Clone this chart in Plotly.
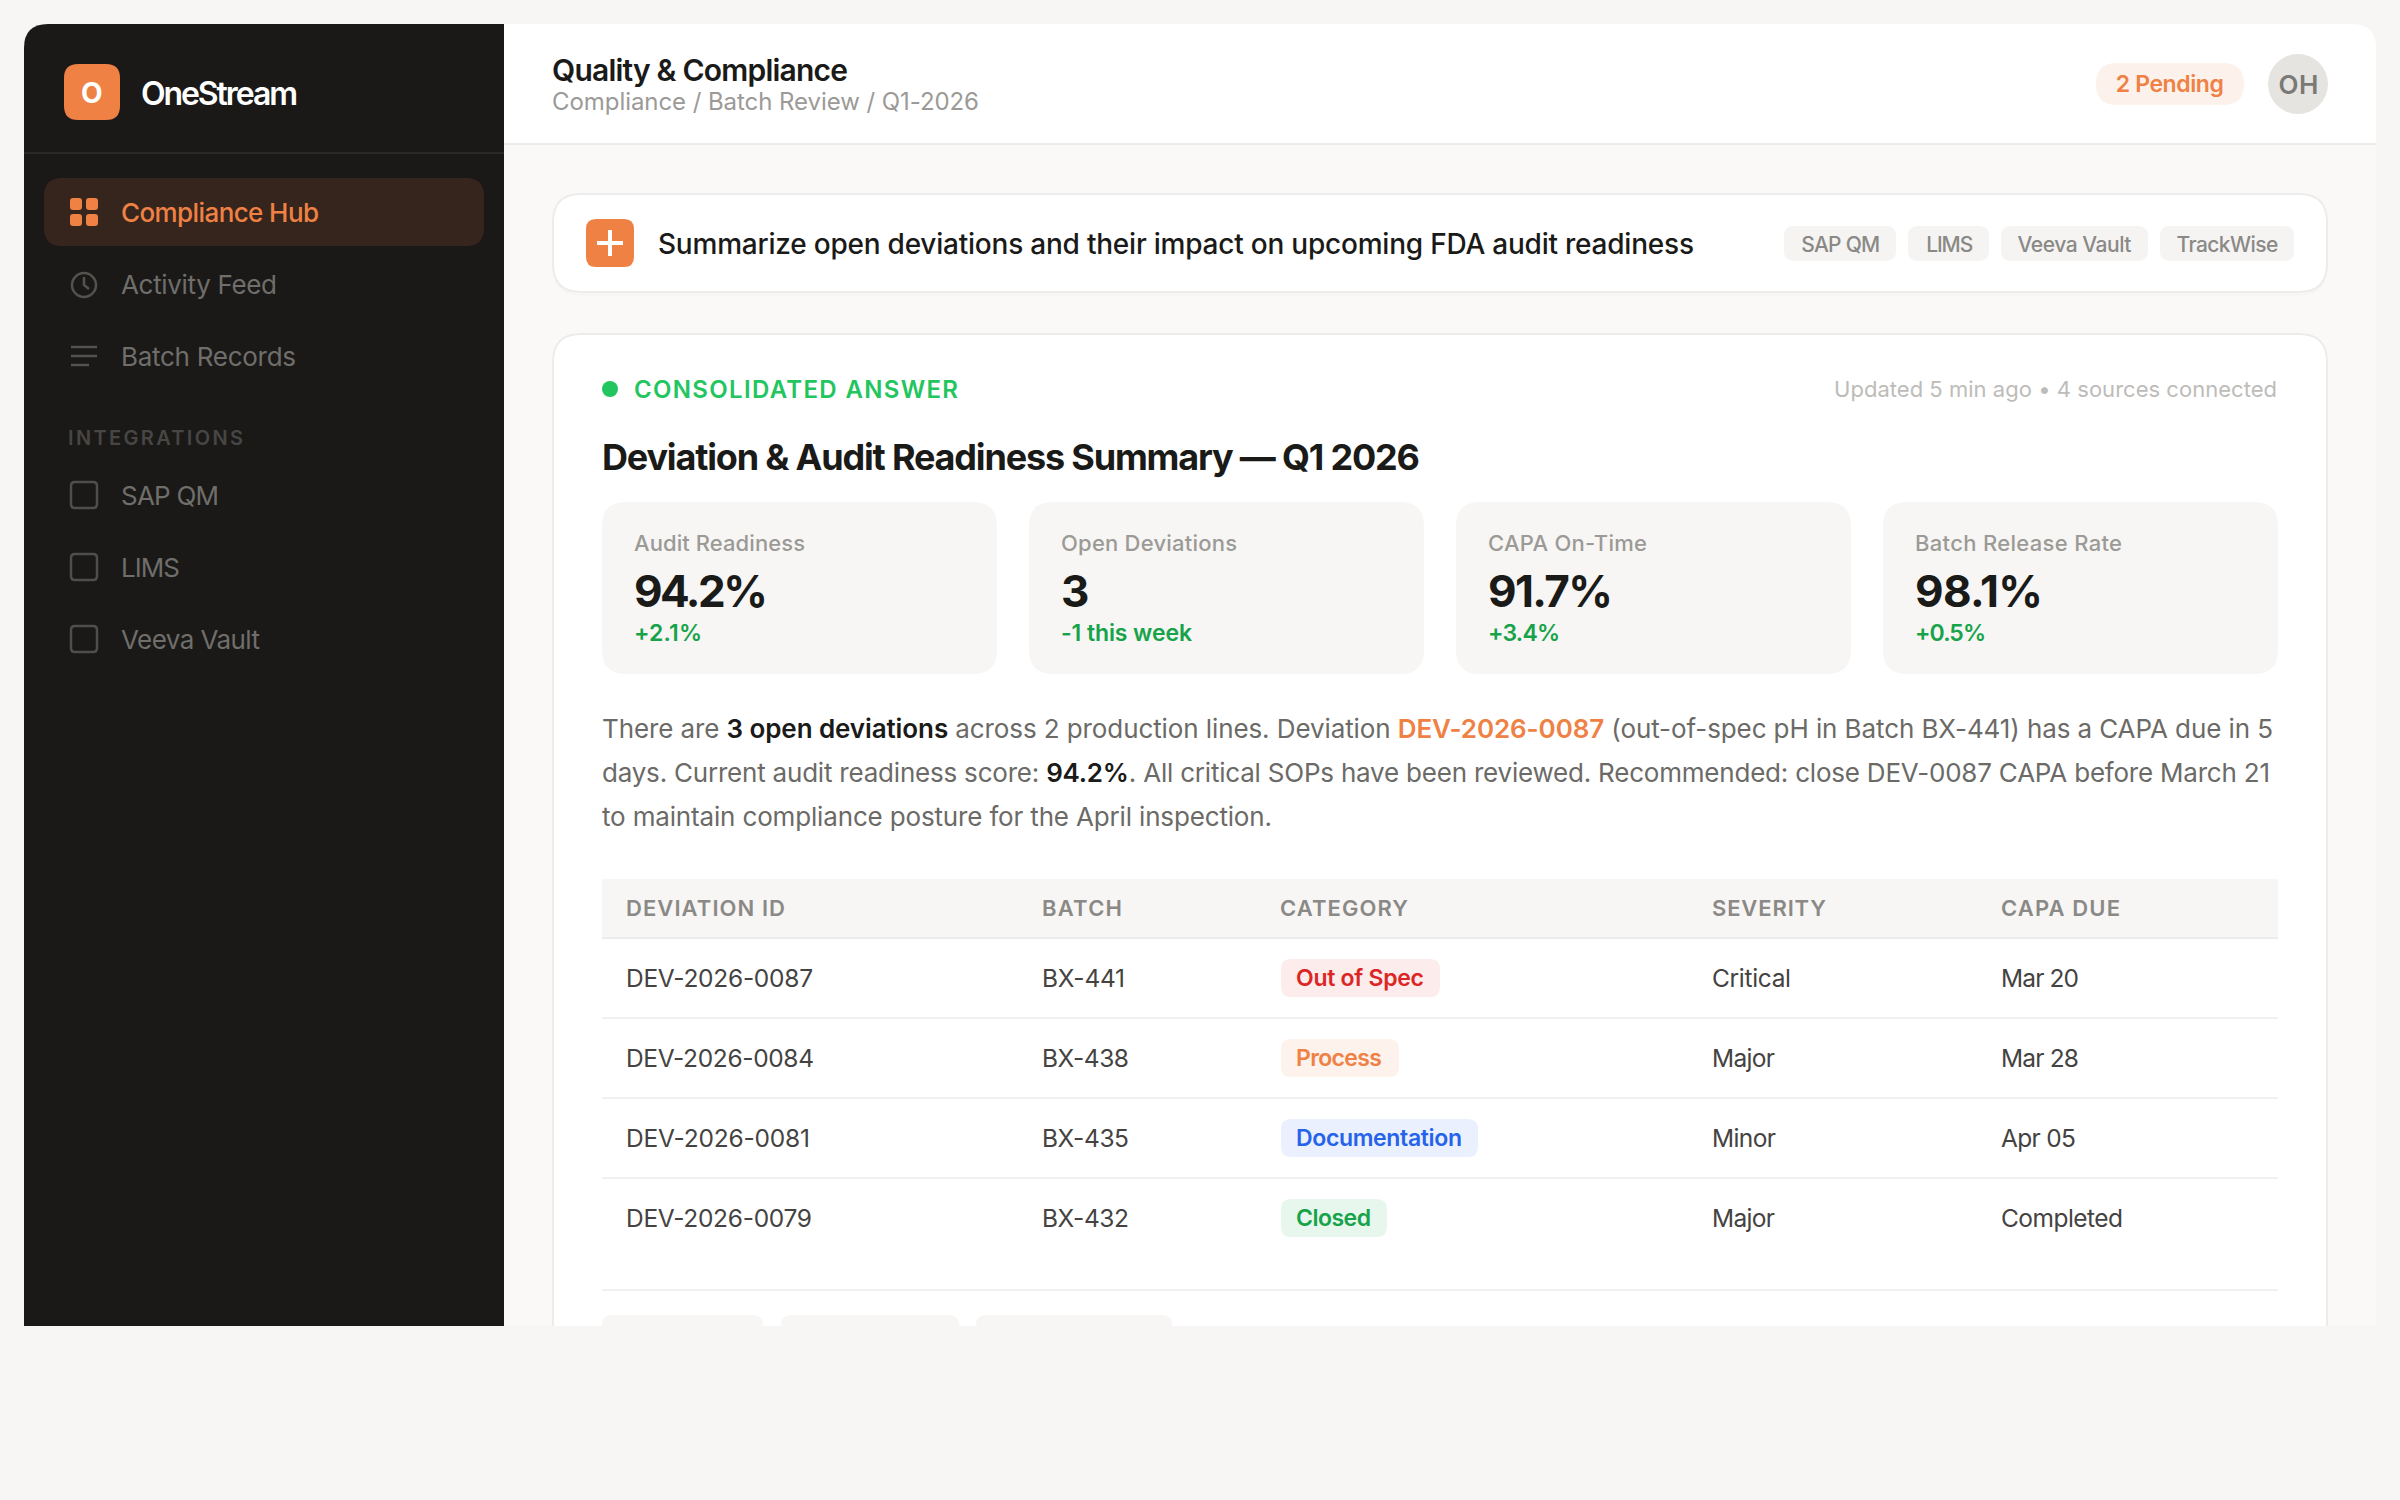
import json
import plotly.graph_objects as go

# ---- data ----
nav_items = ["Compliance Hub", "Activity Feed", "Batch Records"]
integrations = ["SAP QM", "LIMS", "Veeva Vault"]
source_chips = ["SAP QM", "LIMS", "Veeva Vault", "TrackWise"]

kpi_labels = ["Audit Readiness", "Open Deviations", "CAPA On-Time", "Batch Release Rate"]
kpi_values = ["94.2%", "3", "91.7%", "98.1%"]
kpi_deltas = ["+2.1%", "-1 this week", "+3.4%", "+0.5%"]

table_headers = ["DEVIATION ID", "BATCH", "CATEGORY", "SEVERITY", "CAPA DUE"]
deviation_ids = ["DEV-2026-0087", "DEV-2026-0084", "DEV-2026-0081", "DEV-2026-0079"]
batches = ["BX-441", "BX-438", "BX-435", "BX-432"]
categories = ["Out of Spec", "Process", "Documentation", "Closed"]
severities = ["Critical", "Major", "Minor", "Major"]
capa_due = ["Mar 20", "Mar 28", "Apr 05", "Completed"]

ORANGE = "#EF8145"
GREEN = "#16A34A"
DARK = "#1A1A18"
FONT = "Inter"

shapes = []
notes = []
fits = []  # text width wanted per annotation, plotly has no letter-spacing option


def rrect(x0, y0, x1, y1, r, bottom=True):
  p = f"M{x0+r},{y0} L{x1-r},{y0} Q{x1},{y0} {x1},{y0+r} "
  if bottom:
    p += f"L{x1},{y1-r} Q{x1},{y1} {x1-r},{y1} L{x0+r},{y1} Q{x0},{y1} {x0},{y1-r} "
  else:
    p += f"L{x1},{y1} L{x0},{y1} "
  return p + f"L{x0},{y0+r} Q{x0},{y0} {x0+r},{y0} Z"


def box(x0, y0, x1, y1, r, fill, line=None, width=2, bottom=True):
  shapes.append(dict(type="path", path=rrect(x0, y0, x1, y1, r, bottom), fillcolor=fill,
                     line=dict(color=line or fill, width=width if line else 0)))


def rule(x0, y0, x1, y1, color, width=2):
  shapes.append(dict(type="line", x0=x0, y0=y0, x1=x1, y1=y1, line=dict(color=color, width=width)))


def label(x, y, text, size, color, weight=400, anchor="left", fit=None):
  if anchor == "left":
    x -= 1.5
  notes.append(dict(x=x, y=y, text=text, showarrow=False, xanchor=anchor, yanchor="middle",
                    align=anchor, borderpad=0,
                    font=dict(family=FONT, size=size, color=color, weight=weight)))
  fits.append(fit)


# frame
shapes.append(dict(type="path", path="M504,24 L2352,24 Q2376,24 2376,48 L2376,1326 L504,1326 Z",
                   fillcolor="#FAF9F7", line=dict(width=0)))
shapes.append(dict(type="path", path="M504,24 L2352,24 Q2376,24 2376,48 L2376,144 L504,144 Z",
                   fillcolor="#FFFFFF", line=dict(width=0)))
rule(504, 144, 2376, 144, "#EDECEA")
shapes.append(dict(type="path", path="M48,24 L504,24 L504,1326 L24,1326 L24,48 Q24,24 48,24 Z",
                   fillcolor="#1A1917", line=dict(width=0)))
rule(24, 153, 504, 153, "#2A2927")

# sidebar
box(64, 64, 120, 120, 14, ORANGE)
label(92, 93, "O", 28, "#FFFFFF", 700, "center")
label(141, 93, "OneStream", 32, "#FFFFFF", 600, fit=157)
box(44, 178, 484, 246, 18, "#36251C")

for cx, cy in [(70, 198), (86, 198), (70, 214), (86, 214)]:
  box(cx, cy, cx + 12, cy + 12, 3, ORANGE)

ICON = "#53524F"
shapes.append(dict(type="circle", x0=72, y0=273, x1=96, y1=297, line=dict(color=ICON, width=2.5)))
shapes.append(dict(type="path", path="M84,277 L84,285 L89,289", line=dict(color=ICON, width=2.5)))
rule(71, 347, 97, 347, ICON, 2.5)
rule(71, 356, 97, 356, ICON, 2.5)
rule(71, 365, 89, 365, ICON, 2.5)

nav_fit = [198, 156, 175]
for i, name in enumerate(nav_items):
  color = ORANGE if i == 0 else "#6F6E6B"
  label(121, 212 + 72 * i, name, 26, color, 500 if i == 0 else 400, fit=nav_fit[i])

label(68, 438, "INTEGRATIONS", 20, "#474644", 600, fit=175)
int_fit = [98, 59, 139]
for i, name in enumerate(integrations):
  cy = 495 + 72 * i
  box(71, cy - 13, 97, cy + 13, 4, "rgba(0,0,0,0)", "#4F4E4C", 2.5)
  label(121, cy, name, 26, "#6F6E6B", fit=int_fit[i])

# header
label(552, 70, "Quality & Compliance", 30, DARK, 600, fit=296)
label(552, 101, "Compliance / Batch Review / Q1-2026", 24, "#9B9A97", fit=427)
box(2096, 63, 2244, 105, 21, "#FDF1EB")
label(2169, 84, "2 Pending", 23, ORANGE, 600, "center", fit=108)
shapes.append(dict(type="circle", x0=2268, y0=54, x1=2328, y1=114, fillcolor="#E5E4E0", line=dict(width=0)))
label(2298, 84, "OH", 26, "#7A7976", 600, "center", fit=40)

# query card
box(553, 196, 2327, 296, 28, "rgba(0,0,0,0.012)")
box(553, 194, 2327, 292, 28, "#FFFFFF", "#EDECEA")
box(586, 219, 634, 267, 10, ORANGE)
rule(597, 243, 623, 243, "#FFFFFF", 4)
rule(610, 230, 610, 256, "#FFFFFF", 4)
label(658, 244, "Summarize open deviations and their impact on upcoming FDA audit readiness", 28, DARK, 500, fit=1036)

chip_edges = [(1784, 1896), (1908, 1989), (2001, 2148), (2160, 2294)]
chip_fit = [79, 47, 114, 102]
for (x0, x1), name, w in zip(chip_edges, source_chips, chip_fit):
  box(x0, 226, x1, 261, 10, "#F5F4F2")
  label((x0 + x1) / 2, 244, name, 21, "#8A8986", 500, "center", fit=w)

# answer card, the frame cuts it off so no bottom edge
box(553, 334, 2327, 1326, 28, "#FFFFFF", bottom=False)
shapes.append(dict(type="path", path="M553,1326 L553,362 Q553,334 581,334 L2299,334 Q2327,334 2327,362 L2327,1326",
                   line=dict(color="#EDECEA", width=2)))
shapes.append(dict(type="circle", x0=602, y0=381, x1=618, y1=397, fillcolor="#22C55E", line=dict(width=0)))
label(634, 389, "CONSOLIDATED ANSWER", 24, "#22C55E", 600, fit=324)
label(2278, 389, "Updated 5 min ago • 4 sources connected", 22, "#BDBCB9", 400, "right", fit=443)
label(602, 457, "Deviation &amp; Audit Readiness Summary — Q1 2026", 36, DARK, 700, fit=818)

# kpi cards
kpi_label_fit = [171, 176, 159, 207]
kpi_value_fit = [134, None, 125, 128]
kpi_delta_fit = [68, 131, 72, 71]
for i in range(4):
  x0 = 602 + 427 * i
  box(x0, 502, x0 + 395, 674, 24, "#F7F6F4")
  label(x0 + 32, 543, kpi_labels[i], 22, "#9B9A97", 500, fit=kpi_label_fit[i])
  label(x0 + 32, 591, kpi_values[i], 44, DARK, 700, fit=kpi_value_fit[i])
  label(x0 + 32, 633, kpi_deltas[i], 23, GREEN, 600, fit=kpi_delta_fit[i])

# paragraph
INK = "#6B6A67"
b = lambda s: f'<span style="color:{DARK};font-weight:600">{s}</span>'
line_1 = ("There are " + b("3 open deviations") + " across 2 production lines. Deviation "
          + f'<span style="color:{ORANGE};font-weight:600">DEV-2026-0087</span>'
          + " (out-of-spec pH in Batch BX-441) has a CAPA due in 5")
line_2 = ("days. Current audit readiness score: " + b("94.2%")
          + ". All critical SOPs have been reviewed. Recommended: close DEV-0087 CAPA before March 21")
line_3 = "to maintain compliance posture for the April inspection."
for y, line, w in zip([728.5, 772.5, 816], [line_1, line_2, line_3], [1671, 1668, 670]):
  label(602, y, line, 26, INK, fit=w)

# table
columns = [626.5, 1042.5, 1280.5, 1712.5, 2001.5]
shapes.append(dict(type="rect", x0=602, y0=879, x1=2278, y1=937, fillcolor="#F7F6F4", line=dict(width=0)))
rule(602, 938, 2278, 938, "#EDECEA")
header_fit = [159, 80, 128, 114, 119]
for x, name, w in zip(columns, table_headers, header_fit):
  label(x, 908, name, 22, "#8A8986", 600, fit=w)

badge_fill = ["#FDECEC", "#FDF2EC", "#EAF0FD", "#E8F7EE"]
badge_text = ["#DC2626", ORANGE, "#2563EB", GREEN]
badge_end = [1440, 1399, 1478, 1387]
badge_fit = [128, 86, 166, 75]
id_fit = [187, 188, 184, 186]
batch_fit = [83, 87, 87, 87]
sev_fit = [79, 63, 64, 63]
due_fit = [78, 78, 75, 122]
CELL = "#444341"
for i in range(4):
  y = 978 + 80 * i
  label(columns[0], y, deviation_ids[i], 24.5, CELL, fit=id_fit[i])
  label(columns[1], y, batches[i], 24.5, CELL, fit=batch_fit[i])
  box(1281, y - 19, badge_end[i], y + 19, 10, badge_fill[i])
  label(1296.5, y, categories[i], 23, badge_text[i], 600, fit=badge_fit[i])
  label(columns[3], y, severities[i], 24.5, CELL, fit=sev_fit[i])
  label(columns[4], y, capa_due[i], 24.5, CELL, fit=due_fit[i])
  if i < 3:
    rule(602, y + 40, 2278, y + 40, "#F2F1EF")
rule(602, 1290, 2278, 1290, "#F2F1EF")

# follow-up buttons cut off by the frame
for x0, x1 in [(602, 763), (781, 959), (976, 1172)]:
  box(x0, 1315, x1, 1326, 10, "#F7F6F4", bottom=False)

fig = go.Figure()
fig.update_layout(width=2400, height=1500, margin=dict(l=0, r=0, t=0, b=0), showlegend=False,
                  paper_bgcolor="#F7F6F4", plot_bgcolor="#F7F6F4",
                  xaxis=dict(range=[0, 2400], visible=False, fixedrange=True),
                  yaxis=dict(range=[1500, 0], visible=False, fixedrange=True),
                  shapes=shapes, annotations=notes)

tracking = """
document.body.style.margin = '0';
var fits = %s;
document.querySelectorAll('.annotation').forEach(function (g) {
  var want = fits[+g.getAttribute('data-index')];
  if (want === null) return;
  var t = g.querySelector('text');
  t.style.letterSpacing = ((want - t.getComputedTextLength()) / (t.textContent.length - 1)) + 'px';
});
""" % json.dumps(fits)

fig.write_html("out.html", config=dict(displayModeBar=False), post_script=tracking)
